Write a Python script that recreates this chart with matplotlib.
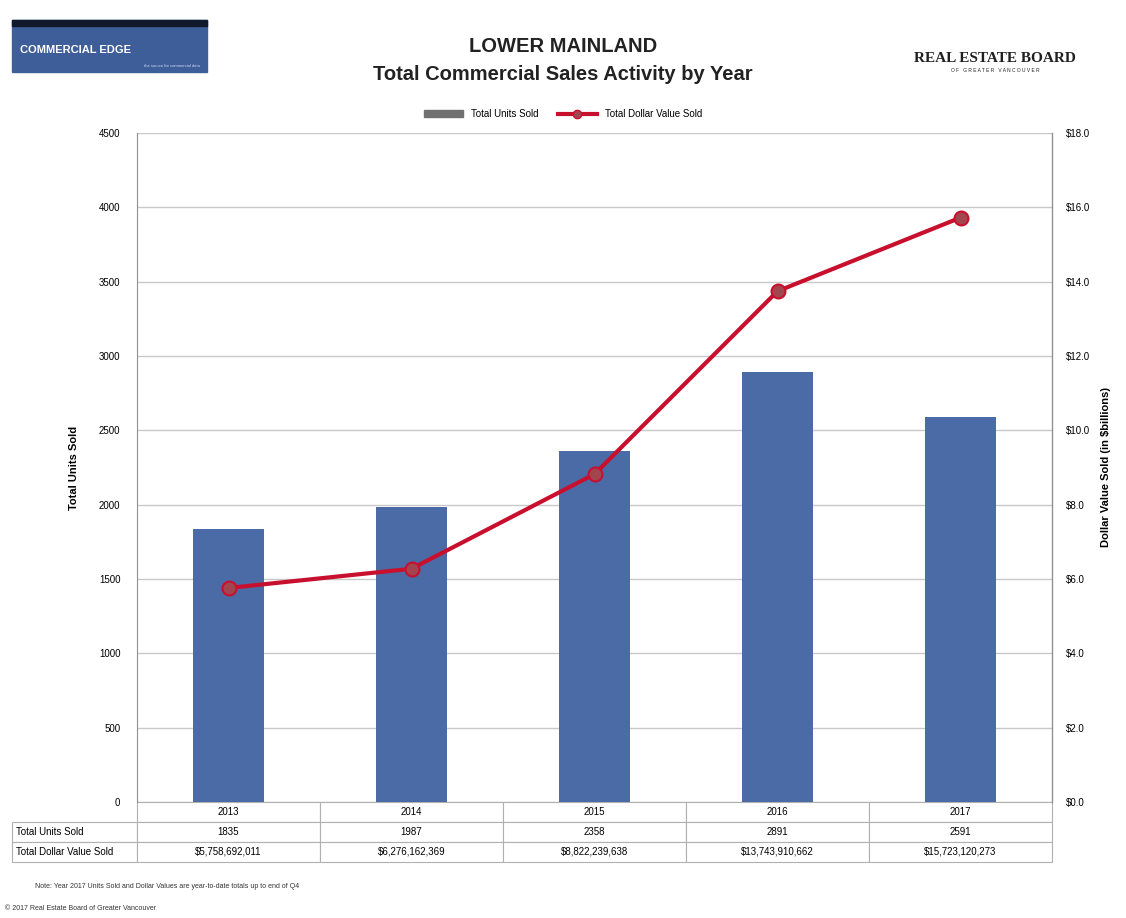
import numpy as np
import matplotlib
matplotlib.use("Agg")
import matplotlib.pyplot as plt
import matplotlib.patches as patch
from matplotlib.lines import Line2D
from matplotlib.ticker import FuncFormatter

years = ["2013", "2014", "2015", "2016", "2017"]
units_sold = [1835, 1987, 2358, 2891, 2591]
dollar_sold = [5758692011, 6276162369, 8822239638, 13743910662, 15723120273]
units_ticks = [0, 500, 1000, 1500, 2000, 2500, 3000, 3500, 4000, 4500]
dollar_ticks = [0, 2, 4, 6, 8, 10, 12, 14, 16, 18]

BAR_COLOR = "#4A6BA5"
LINE_COLOR = "#C8102E"
plt.rcParams["font.family"] = ["Liberation Sans", "DejaVu Sans"]

fig = plt.figure(figsize=(11.26, 9.18), dpi=100)
ax = fig.add_axes([137 / 1126, 1 - 802 / 918, 915 / 1126, 669 / 918])
ax2 = ax.twinx()

x = np.arange(len(years))
ax.bar(x, units_sold, width=0.39, color=BAR_COLOR, zorder=2)
ax.set_xlim(-0.5, len(years) - 0.5)
ax.set_ylim(0, 4500)
ax.set_yticks(units_ticks)
ax.set_xticks([])
ax.grid(axis="y", color="#C8C8C8", lw=1, zorder=0)
ax.tick_params(axis="y", labelsize=7, length=0, pad=12)
ax.set_ylabel("Total Units Sold", fontsize=8, fontweight="bold", labelpad=14)
for s in ["top", "bottom"]:
    ax.spines[s].set_visible(False)
ax.spines["left"].set_color("#909090")

billions = np.array(dollar_sold) / 1e9
ax2.plot(x, billions, color=LINE_COLOR, lw=3, marker="o", ms=10,
         mfc="#A3454F", mec="#C8102E", mew=1.5, zorder=3)
ax2.set_ylim(0, 18)
ax2.set_yticks(dollar_ticks)
ax2.yaxis.set_major_formatter(FuncFormatter(lambda v, p: "${:.1f}".format(v)))
ax2.tick_params(axis="y", labelsize=7, length=0, pad=10)
ax2.set_ylabel("Dollar Value Sold (in $billions)", fontsize=8, fontweight="bold", labelpad=8)
for s in ["top", "bottom", "left"]:
    ax2.spines[s].set_visible(False)
ax2.spines["right"].set_color("#909090")

# data table under the plot
label_w = 125 / 915
cells = [[""] + years,
         ["Total Units Sold"] + [str(u) for u in units_sold],
         ["Total Dollar Value Sold"] + ["${:,}".format(d) for d in dollar_sold]]
tab = ax.table(cellText=cells, cellLoc="center",
               colWidths=[label_w] + [1 / len(years)] * len(years),
               bbox=[-label_w, -60 / 669, 1 + label_w, 60 / 669])
tab.auto_set_font_size(False)
tab.set_fontsize(7)
for (r, c), cell in tab.get_celld().items():
    cell.set_edgecolor("#B0B0B0")
    cell.set_linewidth(0.8)
    if c == 0:
        cell.get_text().set_ha("left")
        cell.PAD = 0.03
        if r == 0:
            cell.set_visible(False)

# legend
handles = [patch.Patch(color="#707070"),
           Line2D([0], [0], color=LINE_COLOR, lw=3, marker="o", ms=6,
                  mfc="#A3454F", mec=LINE_COLOR)]
fig.legend(handles, ["Total Units Sold", "Total Dollar Value Sold"],
           loc="center", bbox_to_anchor=(0.5, 1 - 114 / 918), ncol=2,
           frameon=False, fontsize=7, handlelength=4, columnspacing=2)

# titles
fig.text(0.5, 1 - 47 / 918, "LOWER MAINLAND", ha="center", va="center",
         fontsize=14.5, fontweight="bold", color="#222222")
fig.text(0.5, 1 - 75 / 918, "Total Commercial Sales Activity by Year", ha="center",
         va="center", fontsize=14.5, fontweight="bold", color="#222222")

# logos
fig.patches.append(patch.Rectangle((12 / 1126, 1 - 72 / 918), 195 / 1126, 52 / 918,
                                   transform=fig.transFigure, color="#3E5E9A"))
fig.patches.append(patch.Rectangle((12 / 1126, 1 - 26 / 918), 195 / 1126, 6 / 918,
                                   transform=fig.transFigure, color="#10182C"))
fig.text(20 / 1126, 1 - 50 / 918, "COMMERCIAL EDGE", fontsize=8, fontweight="bold",
         color="white", va="center")
fig.text(200 / 1126, 1 - 66 / 918, "the source for commercial data", fontsize=3,
         color="#D0D8F0", ha="right", va="center")
fig.text(995 / 1126, 1 - 58 / 918, "REAL ESTATE BOARD", fontsize=11, ha="center",
         va="center", family=["Liberation Serif"], fontweight="bold", color="#202020")
fig.text(995 / 1126, 1 - 70 / 918, "O F   G R E A T E R   V A N C O U V E R", fontsize=3.5,
         ha="center", va="center", color="#202020")

# footnotes
fig.text(35 / 1126, 1 - 886 / 918,
         "Note: Year 2017 Units Sold and Dollar Values are year-to-date totals up to end of Q4",
         fontsize=5, va="center", color="#333333")
fig.text(5 / 1126, 1 - 909 / 918, "\u00a9 2017 Real Estate Board of Greater Vancouver",
         fontsize=5, va="center", color="#333333")

fig.savefig("out.png", dpi=100)
